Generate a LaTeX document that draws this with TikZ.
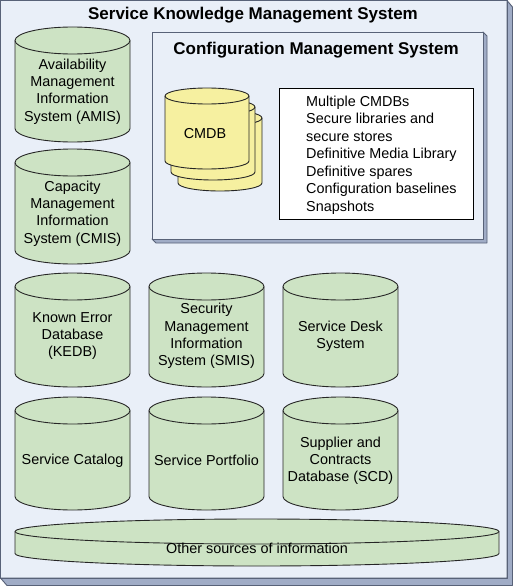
\documentclass[tikz,border=0pt]{standalone}
\usepackage{fontspec}
\setmainfont{Liberation Sans}
\definecolor{bgblue}{RGB}{233,239,248}
\definecolor{bevelc}{RGB}{160,172,198}
\definecolor{framec}{RGB}{88,98,120}
\definecolor{dbgreen}{RGB}{205,227,196}
\definecolor{dbyellow}{RGB}{246,240,160}
\newcommand\dbcyl[6]{%
 \pgfmathsetmacro\cxa{(#1+#3)/2}%
 \pgfmathsetmacro\ka{0.5523*(#3-#1)/2}%
 \pgfmathsetmacro\kb{0.5523*#5}%
 \pgfmathsetmacro\yt{#2+#5}%
 \pgfmathsetmacro\yb{#4-#5}%
 \draw[dbline,fill=#6] (#1,\yt) .. controls (#1,\yt-\kb) and (\cxa-\ka,#2) .. (\cxa,#2) .. controls (\cxa+\ka,#2) and (#3,\yt-\kb) .. (#3,\yt) -- (#3,\yb) .. controls (#3,\yb+\kb) and (\cxa+\ka,#4) .. (\cxa,#4) .. controls (\cxa-\ka,#4) and (#1,\yb+\kb) .. (#1,\yb) -- cycle;
 \draw[dbline] (#1,\yt) .. controls (#1,\yt+\kb) and (\cxa-\ka,\yt+#5) .. (\cxa,\yt+#5) .. controls (\cxa+\ka,\yt+#5) and (#3,\yt+\kb) .. (#3,\yt);
}
\begin{document}
\begin{tikzpicture}[x=1pt,y=-1pt,
  dbline/.style={draw=black!85,line width=0.9pt},
  dbtext/.style={align=center,inner sep=0pt,font=\fontsize{14.4}{17.2}\selectfont},
  titletext/.style={inner sep=0pt,font=\fontsize{17}{20}\selectfont\bfseries},
  framebox/.style={draw=framec,line width=0.9pt,line join=round}]
\useasboundingbox (0,0) rectangle (513,586);
% outer frame
\fill[bgblue] (0.5,0.5) rectangle (507,578);
\filldraw[framebox,fill=bevelc] (507,0.5) -- (512.5,7) -- (512.5,585.5) -- (7,585.5) -- (0.5,578) -- (507,578) -- cycle;
\draw[framebox] (0.5,0.5) rectangle (507,578);
\node[titletext] (title) at (253,15) {Service Knowledge Management System};
% CMS box
\filldraw[framebox,fill=bevelc] (483,32) -- (487,36) -- (487,243) -- (156,243) -- (152,239) -- (483,239) -- cycle;
\filldraw[framebox,fill=bgblue] (152,32) rectangle (483,239);
\node[titletext] (cmstitle) at (316,50) {Configuration Management System};
% CMDB stack
\dbcyl{178}{110}{262}{191}{8}{dbyellow}
\dbcyl{171}{99}{255}{180}{8}{dbyellow}
\dbcyl{165}{88}{249}{169}{8}{dbyellow}
\node[dbtext] (cmdb) at (205,134) {CMDB};
% list box
\node[draw=black,line width=0.9pt,fill=white,minimum width=194pt,minimum height=131pt,anchor=north west,inner sep=0pt] (listbox) at (279,88) {};
\node[anchor=west,align=left,inner sep=0pt,font=\fontsize{14.4}{17.5}\selectfont] (list) at (306,155) {Multiple CMDBs\\Secure libraries and\\secure stores\\Definitive Media Library\\Definitive spares\\Configuration baselines\\Snapshots};
% column 1
\dbcyl{15}{27}{130}{142}{13.5}{dbgreen}
\node[dbtext] (amis) at (72.5,91.5) {Availability\\Management\\Information\\System (AMIS)};
\dbcyl{15}{149}{130}{264}{13.5}{dbgreen}
\node[dbtext] (cmis) at (72.5,213.5) {Capacity\\Management\\Information\\System (CMIS)};
% row 3
\dbcyl{15}{273}{130}{387}{13.5}{dbgreen}
\node[dbtext] (kedb) at (72.5,336) {Known Error\\Database\\(KEDB)};
\dbcyl{149}{273}{264}{387}{13.5}{dbgreen}
\node[dbtext] (smis) at (206.5,336) {Security\\Management\\Information\\System (SMIS)};
\dbcyl{283}{273}{398}{387}{13.5}{dbgreen}
\node[dbtext] (sds) at (340.5,336.5) {Service Desk\\System};
% row 4
\dbcyl{15}{397}{130}{510}{13.5}{dbgreen}
\node[dbtext] (scat) at (72.5,460.5) {Service Catalog};
\dbcyl{149}{397}{264}{510}{13.5}{dbgreen}
\node[dbtext] (sport) at (206.5,460.5) {Service Portfolio};
\dbcyl{283}{397}{398}{510}{13.5}{dbgreen}
\node[dbtext] (scd) at (340.5,460.5) {Supplier and\\Contracts\\Database (SCD)};
% other sources
\dbcyl{15}{519}{499}{566}{12.5}{dbgreen}
\node[dbtext] (other) at (257,548) {Other sources of information};
\end{tikzpicture}
\end{document}
